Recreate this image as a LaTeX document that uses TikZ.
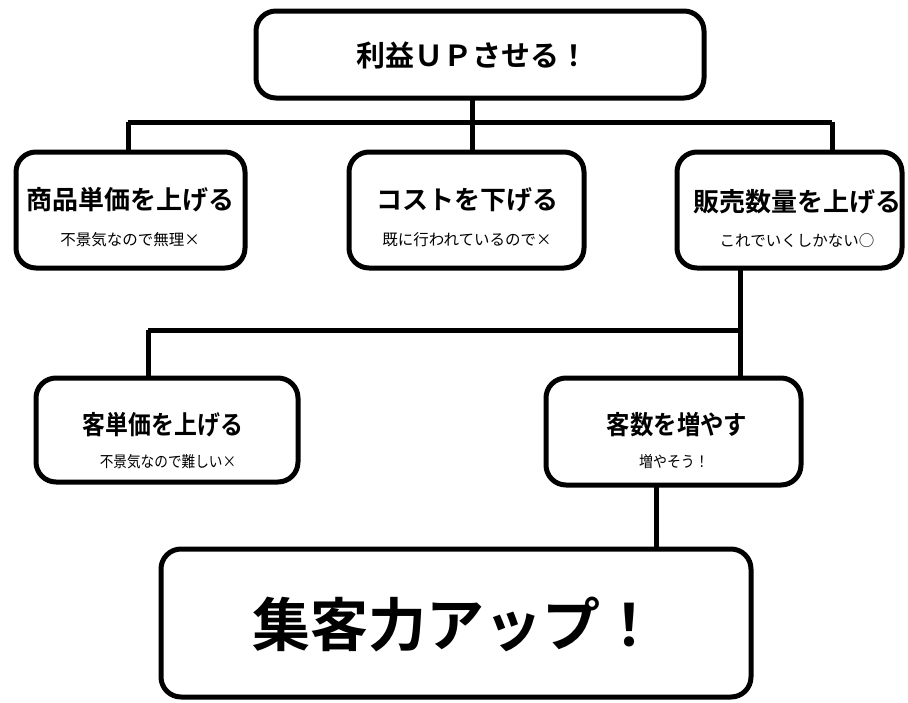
\documentclass[tikz,border=0pt]{standalone}
\usepackage{fontspec}
\newfontfamily\jp{Noto Sans CJK JP}
\newfontfamily\jpb{Noto Sans CJK JP Bold}
\begin{document}
\begin{tikzpicture}[x=1pt,y=-1pt,
  box/.style={draw=black,line width=5pt,rounded corners=20pt,fill=white},
  conn/.style={draw=black,line width=5pt},
  ttl/.style={font=\jpb\fontsize{26}{30}\selectfont,anchor=center,inner sep=0pt},
  sub/.style={font=\jp\fontsize{15.5}{18}\selectfont,anchor=center,inner sep=0pt}]
\useasboundingbox (0,0) rectangle (908,702);
% connectors
\coordinate (j0) at (472,122);
\coordinate (jl) at (128,122);
\coordinate (jr) at (832,122);
\coordinate (k0) at (740,330);
\coordinate (kl) at (148,330);
\draw[conn] (472,98) -- (j0);
\draw[conn] (jl) -- (jr);
\draw[conn] (jl) -- (128,152);
\draw[conn] (j0) -- (472,152);
\draw[conn] (jr) -- (832,152);
\draw[conn] (740,268) -- (k0);
\draw[conn] (kl) -- (k0);
\draw[conn] (kl) -- (148,378);
\draw[conn] (k0) -- (740,378);
\draw[conn] (656,485) -- (656,548);
% boxes
\draw[box] (256,11) rectangle (704,98);
\draw[box] (16,152) rectangle (245,268);
\draw[box] (349,152) rectangle (584,268);
\draw[box] (677,152) rectangle (902,268);
\draw[box] (36,378) rectangle (298,482);
\draw[box] (546,378) rectangle (801,485);
\draw[box] (161,549) rectangle (751,697);
% texts
\node[ttl,font=\jpb\fontsize{29}{32}\selectfont] (t0) at (472,55) {利益ＵＰさせる！};
\node[ttl] (t1) at (131,200) {商品単価を上げる};
\node[sub] (s1) at (130,240) {不景気なので無理×};
\node[ttl] (t2) at (467,200) {コストを下げる};
\node[sub] (s2) at (467,240) {既に行われているので×};
\node[ttl] (t3) at (797,202) {販売数量を上げる};
\node[sub] (s3) at (797,241) {これでいくしかない○};
\node[ttl,xscale=0.88] (t4) at (163,425) {客単価を上げる};
\node[sub,xscale=0.88] (s4) at (168,462) {不景気なので難しい×};
\node[ttl,xscale=0.9] (t5) at (677,425) {客数を増やす};
\node[sub,xscale=0.9] (s5) at (674,462) {増やそう！};
\node[ttl,font=\jpb\fontsize{58}{64}\selectfont] (t6) at (455,625) {集客力アップ！};
\end{tikzpicture}
\end{document}
